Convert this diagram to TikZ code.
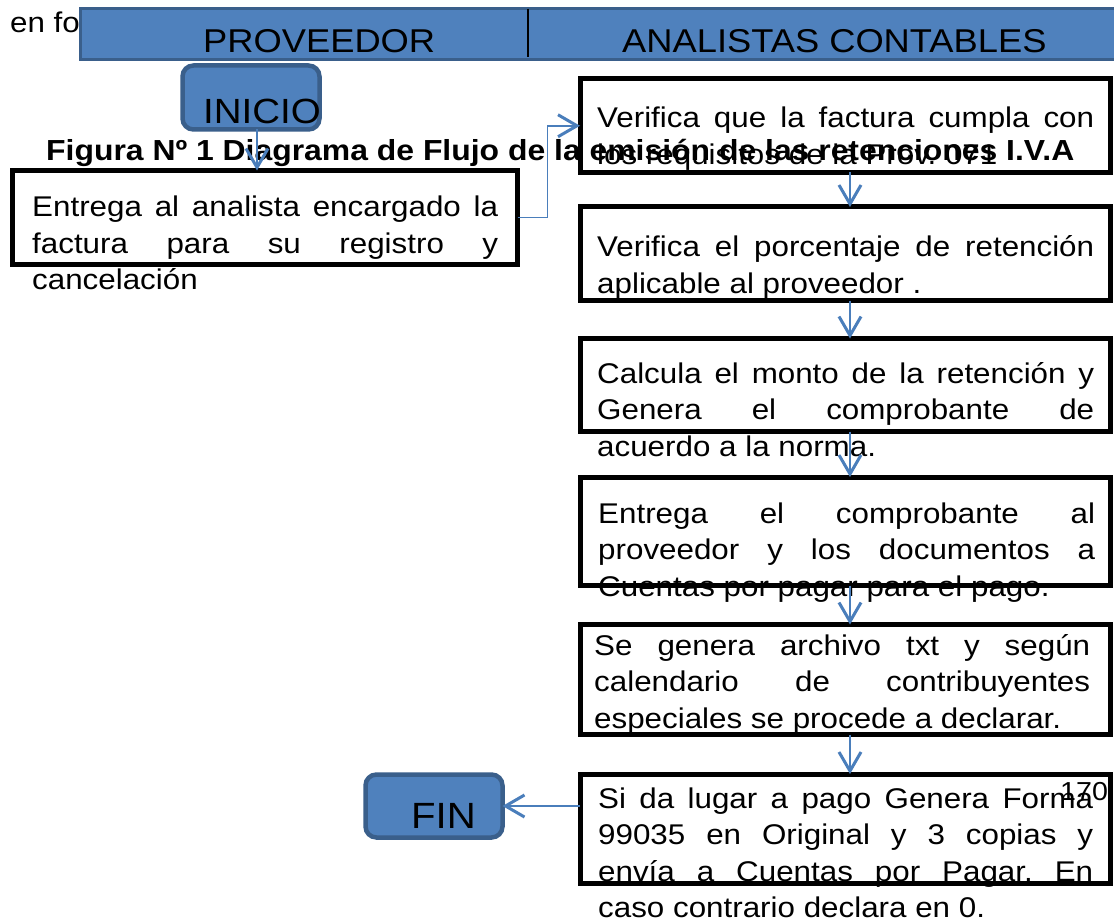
\documentclass[tikz,border=0pt]{standalone}
\usepackage{fontspec}
\setmainfont{Liberation Sans}[FakeStretch=1.1]
\usepackage{tikz}
\usetikzlibrary{arrows.meta,calc}
\definecolor{flowbar}{HTML}{4F81BD}
\definecolor{flowedge}{HTML}{3A5F8B}
\definecolor{flowarrow}{HTML}{4A7EBB}
\hyphenpenalty=10000
\exhyphenpenalty=10000
\tolerance=10000
\frenchspacing

\begin{document}
\begin{tikzpicture}[x=1pt,y=-1pt,
  box/.style={draw=black,line width=5pt,minimum width=530pt,inner sep=0pt,outer sep=0pt},
  term/.style={draw=flowedge,line width=4.5pt,fill=flowbar,rounded corners=11pt,
    minimum width=137pt,minimum height=64pt,inner sep=0pt,outer sep=0pt},
  txt/.style={anchor=base west,inner sep=0pt,text width=497pt,align=justify,
    font=\fontsize{28.5}{36.5}\selectfont},
  big/.style={anchor=base west,inner sep=0pt},
  arr/.style={flowarrow,line width=1.6pt,
    -{Straight Barb[length=19pt,width=22pt,line width=3pt]}}]
\path[use as bounding box] (0,0) rectangle (1114,920);
\fill[white] (0,0) rectangle (1114,920);
\node[big,font=\fontsize{28.5}{34}\selectfont] (enfo) at (10,33) {en fo};
% barra de carriles
\node[draw=flowedge,line width=3pt,fill=flowbar,anchor=north west,inner sep=0pt,
  minimum width=1060pt,minimum height=51pt] (bar) at (78.5,7) {};
\draw[line width=1.5pt] (528,9) -- (528,57);
\node[big,font=\fontsize{33}{40}\selectfont] (prov) at (203,53) {PROVEEDOR};
\node[big,font=\fontsize{33}{40}\selectfont] (anal) at (622,53) {ANALISTAS CONTABLES};
\node[term] (ini) at (251,97.5) {};
\node[big,font=\fontsize{35}{42}\selectfont] (initxt) at (203,124) {INICIO};
\node[term,minimum height=63pt] (fin) at (434,806) {};
\node[big,font=\fontsize{36.5}{42}\selectfont] (fintxt) at (411,828) {FIN};
\node[big,font=\bfseries\fontsize{29}{35}\selectfont] (title) at (46,161)
  {Figura Nº 1 Diagrama de Flujo de la emisión de las retenciones I.V.A};
\node[txt,text width=466pt] (t1) at (32,217)
  {Entrega al analista encargado la\linebreak factura para su registro y\linebreak cancelación};
\node[txt] (t2) at (597,128)
  {Verifica que la factura cumpla con\linebreak los requisitos de la Prov. 071};
\node[txt] (t3) at (597,257)
  {Verifica el porcentaje de retención\linebreak aplicable al proveedor .};
\node[txt] (t4) at (597,383)
  {Calcula el monto de la retención y\linebreak Genera el comprobante de\linebreak acuerdo a la norma.};
\node[txt] (t5) at (598,523)
  {Entrega el comprobante al\linebreak proveedor y los documentos a\linebreak Cuentas por pagar para el pago.};
\node[txt,text width=496pt] (t6) at (594,655)
  {Se genera archivo txt y según\linebreak calendario de contribuyentes\linebreak especiales se procede a declarar.};
\node[txt,text width=495pt] (t7) at (598,808)
  {Si da lugar a pago Genera Forma\linebreak 99035 en Original y 3 copias y\linebreak envía a Cuentas por Pagar. En\linebreak caso contrario declara en 0.};
\node[box,minimum width=505pt,minimum height=94pt] (b1) at (265,217.5) {};
\node[box,minimum height=93.5pt] (b2) at (845,125.75) {};
\node[box,minimum height=93.5pt] (b3) at (845,253.75) {};
\node[box,minimum height=93pt] (b4) at (845,385) {};
\node[box,minimum height=108.5pt] (b5) at (845,531.25) {};
\node[box,minimum height=110pt] (b6) at (845,679.5) {};
\node[box,minimum height=109.5pt] (b7) at (845,828.75) {};
\node[big,font=\fontsize{26}{30}\selectfont] (pag) at (1060,800) {170};
\draw[arr] ([xshift=6pt]ini.south) -- ([xshift=-8pt]b1.north);
\draw[arr] (b1.east) -- ++(30,0) |- (b2.west);
\draw[arr] ([xshift=5pt]b2.south) -- ([xshift=5pt]b3.north);
\draw[arr] ([xshift=5pt]b3.south) -- ([xshift=5pt]b4.north);
\draw[arr] ([xshift=5pt]b4.south) -- ([xshift=5pt]b5.north);
\draw[arr] ([xshift=5pt]b5.south) -- ([xshift=5pt]b6.north);
\draw[arr] ([xshift=5pt]b6.south) -- ([xshift=5pt]b7.north);
\draw[arr] (b7.west |- fin.east) -- (fin.east);
\end{tikzpicture}
\end{document}
